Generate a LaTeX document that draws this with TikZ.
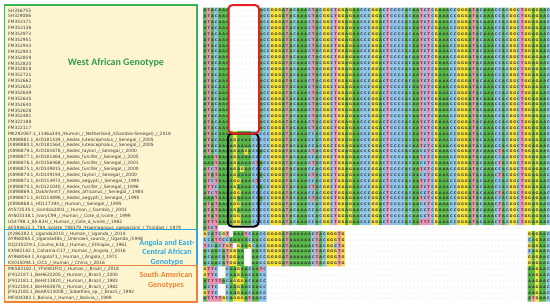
\documentclass[tikz,border=0pt]{standalone}
\usepackage{fontspec}
\setmainfont{DejaVu Sans}
\newfontfamily\titlefont{Carlito}

\definecolor{baseA}{RGB}{88,182,72}
\definecolor{baseC}{RGB}{143,195,234}
\definecolor{baseG}{RGB}{246,225,58}
\definecolor{baseT}{RGB}{235,145,178}
\definecolor{panelbg}{RGB}{253,245,208}
\definecolor{wagreen}{RGB}{58,182,88}
\definecolor{ecblue}{RGB}{48,168,224}
\definecolor{saorange}{RGB}{240,128,52}
\definecolor{labelgray}{RGB}{60,60,60}
\definecolor{boxred}{RGB}{228,30,36}

% one alignment row: \seqrow{row}{bases}; colour runs are merged per row
\newcount\seqcol
\newcount\runstart
\newcommand\seqrow[2]{%
  \pgfmathsetmacro\seqy{10.5+(#1-1)*5.88}%
  \pgfmathsetmacro\seqyt{\seqy-3.0}%
  \pgfmathsetmacro\seqyb{\seqy+3.0}%
  \edef\seqr{#1}%
  \global\seqcol=0\relax
  \gdef\runletter{}%
  \gdef\seqpathA{}\gdef\seqpathC{}\gdef\seqpathG{}\gdef\seqpathT{}%
  \edef\seqtmp{#2}%
  \expandafter\seqscan\seqtmp\relax
  \seqflush{\the\seqcol}%
  \seqfillone{A}\seqfillone{C}\seqfillone{G}\seqfillone{T}%
  \node[seqtext] (seq\seqr) at (203,\seqy+1.3) {\expandafter\seqtype\seqtmp\relax};}
\def\seqscan#1{%
  \ifx#1\relax\else
    \global\advance\seqcol by 1\relax
    \def\seqcur{#1}%
    \ifx\seqcur\runletter\else
      \seqflush{\the\seqcol-1}%
      \global\runstart=\seqcol\relax
      \global\let\runletter\seqcur
    \fi
    \expandafter\seqscan
  \fi}
\newcommand\seqflush[1]{%
  \ifx\runletter\empty\else
    \if\runletter-\else
      \pgfmathsetmacro\runxa{203+(\the\runstart-1)*3.731}%
      \pgfmathsetmacro\runxb{203+(#1)*3.731+0.15}%
      \expandafter\xdef\csname seqpath\runletter\endcsname{%
        \csname seqpath\runletter\endcsname (\runxa,\seqyt) rectangle (\runxb,\seqyb) }%
    \fi
  \fi}
\newcommand\seqfillone[1]{%
  \expandafter\ifx\csname seqpath#1\endcsname\empty\else
    \edef\seqcmd{\noexpand\fill[nuc#1] \csname seqpath#1\endcsname;}\seqcmd
  \fi}
\def\seqtype#1{\ifx#1\relax\else\seqcbox{#1}\expandafter\seqtype\fi}
\newcommand\seqcbox[1]{\makebox[3.731pt]{\if#1-\textcolor{gray!85}{\mdseries-}\else#1\fi}}

\def\gapbox{--------}
\def\dd{----------}
\def\wmid{ACCGGGATACAAACTACGGCTGGAGAACCCGGACT}
\def\wmidb{CCCGGGATACAAACCACGGCTGGAGAACCCGGACT}
\def\wtail{CCCCACAATCTCGAAACCGGGATACAAACCACGGCTGGAGAAC}
\def\wtailb{CCCCACAACCTCGAAACCGGGATACAAACTACGGCTGGAGAAC}
\def\wtailc{CCCCACAATTTCGAAACCGGGATACAAACTACGGCTGGAGAAC}

\begin{document}
\begin{tikzpicture}[x=1pt,y=-1pt]
  \tikzset{
    panel/.style={fill=panelbg, line width=1.2pt},
    lbl/.style={anchor=west, inner sep=0pt, text=labelgray, font=\fontsize{4.4}{5}\selectfont},
    gtitle/.style={inner sep=0pt, align=center, font=\titlefont\bfseries\fontsize{8}{9.5}\selectfont},
    seqtext/.style={anchor=base west, inner sep=0pt, text=black!80, font=\bfseries\fontsize{3.5}{4}\selectfont},
    nucA/.style={fill=baseA}, nucC/.style={fill=baseC},
    nucG/.style={fill=baseG}, nucT/.style={fill=baseT},
    insertbox/.style={rounded corners=4pt, line width=2pt}
  }
  \useasboundingbox (0,0) rectangle (550,306);

  % genotype panels
  \draw[panel, draw=wagreen] (4.5,5) rectangle (197,229.5);
  \draw[panel, draw=ecblue] (4.5,229.5) rectangle (197,265.5);
  \draw[panel, draw=saorange] (4.5,265.5) rectangle (197,302);

  \foreach \txt [count=\i] in {SH356755, SH329086, FM353171, FM353136, FM352972,
      FM352951, FM352943, FM352903, FM352859, FM352820, FM352818, FM352721,
      FM352662, FM352652, FM352649, FM352645, FM352640, FM352628, FM352481,
      FM322188, FM322117,
      MK292067.1\_1146a344\_/Human\_/\_Netherland\_/(Gambia-Senegal)\_/\_2018,
      JX898881.1\_ArD181439\_/\_Aedes\_luteocephalus\_/\_Senegal\_/\_2005,
      JX898880.1\_ArD181564\_/\_Aedes\_luteocephalus\_/\_Senegal\_/\_2005,
      JX898879.1\_ArD181676\_/\_Aedes\_taylori\_/\_Senegal\_/\_2000,
      JX898877.1\_ArD181464\_/\_Aedes\_furcifer\_/\_Senegal\_/\_2005,
      JX898876.1\_ArD156468\_/\_Aedes\_furcifer\_/\_Senegal\_/\_2001,
      JX898875.1\_ArD149815\_/\_Aedes\_furcifer\_/\_Senegal\_/\_2000,
      JX898874.1\_ArD149194\_/\_Aedes\_taylori\_/\_Senegal\_/\_2000,
      JX898872.1\_ArD114972\_/\_Aedes\_aegypti\_/\_Senegal\_/\_1995,
      JX898870.1\_ArD121040\_/\_Aedes\_furcifer\_/\_Senegal\_/\_1996,
      JX898869.1\_DakArAmt7\_/\_Aedes\_africanus\_/\_Senegal\_/\_1984,
      JX898871.1\_ArD114896\_/\_Aedes\_aegypti\_/\_Senegal\_/\_1995,
      JX898868.1\_HD117294\_/\_Human\_/\_Senegal\_/\_1995,
      AY572535.1\_Gambia2001\_/\_Human\_/\_Gambia\_/\_2001,
      AY603338.1\_IvoryC99\_/\_Human\_/\_Cote\_d\_Ivoire\_/\_1999,
      U54798.1\_85-82H\_/\_Human\_/\_Cote\_d\_Ivoire\_/\_1982,
      AF094612.1\_79A\_isolate\_788379\_/Haemagogus\_spegazzinii\_/\_Trinidad\_/\_1979,
      JX286382.1\_Uganda2010\_/\_Human\_/\_Uganda\_/\_2010,
      AY968065.1\_Uganda48a\_/\_Unknown\_source\_/\_Uganda\_/1948,
      DQ235229.1\_Couma\_61b\_/\_Human\_/\_Ethiopia\_/\_1961,
      KX982182.1\_Cahama-C17\_/\_Human\_/\_Angola\_/\_2016,
      AY968064.1\_Angola71\_/\_Human\_/\_Angola\_/\_1971,
      KX015094.1\_CIC1\_/\_Human\_/\_China\_/\_2016,
      MK583182.1\_YFV081FIO\_/\_Human\_/\_Brazil\_/\_2018,
      JF912187.1\_BeH622205\_/\_Human\_/\_Brazil\_/\_2000,
      JF912181.1\_BeH413820\_/\_Human\_/\_Brazil\_/\_1983,
      JF912184.1\_BeH463676\_/\_Human\_/\_Brazil\_/\_1982,
      JF912185.1\_BeAR513008\_/\_Sabethes\_sp.\_/\_Brazil\_/\_1992,
      MF004382.1\_Bolivia\_/\_Human\_/\_Bolivia\_/\_1999}
    \node[lbl] (lab\i) at (8,{10.5+(\i-1)*5.88}) {\txt};

  \node[gtitle, text=wagreen!85!black, font=\titlefont\bfseries\fontsize{10}{12}\selectfont]
    (westafrica) at (116,63) {West African Genotype};
  \node[gtitle, text=ecblue] (eastcentral) at (167,252.5) {Angola and East-\\Central African\\Genotype};
  \node[gtitle, text=saorange] (southam) at (166,280.5) {South American\\Genotypes};

  % alignment
  \foreach \r in {1,...,21} {\seqrow{\r}{ATACAAA\gapbox\wmid\wtail}}
  \seqrow{22}{ATACAAAAGAAAACC\wmidb\wtail}
  \seqrow{23}{ATACAAAAGAAAACC\wmidb\wtail}
  \seqrow{24}{ATACAAAAGAAAACC\wmidb\wtail}
  \seqrow{25}{ATACAAAAGAAGACC\wmid\wtailb}
  \seqrow{26}{AAATAAAAGAAAACC\wmidb\wtail}
  \seqrow{27}{AAATAAAAGAAAACT\wmid\wtailb}
  \seqrow{28}{ATCTAAAAGAGAACC\wmidb\wtail}
  \seqrow{29}{ATATAAAAGAAAACC\wmid\wtailb}
  \seqrow{30}{ATCTAAAAGGAAACT\wmidb\wtail}
  \seqrow{31}{ATTCAAAAGAAAACC\wmid\wtail}
  \seqrow{32}{ATCTAAAAGGAAACC\wmidb\wtailb}
  \seqrow{33}{AAATAAAAGAAAACC\wmid\wtail}
  \seqrow{34}{ATATAAAAGGAAACC\wmidb\wtailb}
  \seqrow{35}{ATATAAAAGAAAACC\wmidb\wtailb}
  \seqrow{36}{ATATAAAAGGAAACC\wmidb\wtailb}
  \seqrow{37}{ATTTAAAAGGAAACC\wmidb\wtailc}
  \seqrow{38}{ATCT\dd\dd\dd\dd\dd\dd\dd\dd---------}
  \seqrow{39}{GCATCGT-AAATCAACCGGGGATAAAAAACTACGGGTG\dd\dd\dd\dd---------GAGAAC}
  \seqrow{40}{CCATTCCAAAAACAACCGGGGATAAAAAACTACGGGTG\dd\dd\dd\dd---------CAGAAC}
  \seqrow{41}{TCCACTGT-GAAGCACCGGGGATAAAAAACTACGGCTG\dd\dd\dd\dd---------GAGAAC}
  \seqrow{42}{ACAACATGGAA--AACCGGGGATAAAAAACTACGGGTG\dd\dd\dd\dd---------CAGAAC}
  \seqrow{43}{ACAACATGGAA--AACCGGGGATAAAAAACTACGGGTG\dd\dd\dd\dd---------GAGAAC}
  \seqrow{44}{ACAACATGGAA--AACCGGGGATAAAAAACTACGGGTG\dd\dd\dd\dd---------GAGAAC}
  \seqrow{45}{GTTC--CAAGAACAATC\dd\dd\dd\dd\dd\dd\dd AAGAAC}
  \seqrow{46}{GTTC--CAAGAACAACC\dd\dd\dd\dd\dd\dd\dd AAGAAC}
  \seqrow{47}{ATTTTACAGGGACAACC\dd\dd\dd\dd\dd\dd\dd AAGAAC}
  \seqrow{48}{ACTC--CAAGAACAACC\dd\dd\dd\dd\dd\dd\dd AAGAAC}
  \seqrow{49}{GTTC--CAAGAACAACC\dd\dd\dd\dd\dd\dd\dd AAGAAC}
  \seqrow{50}{ATTTTGCAGGGATAACC\dd\dd\dd\dd\dd\dd\dd ATGAAC}

  % highlighted gap regions
  \draw[insertbox, draw=black] (228,133.5) rectangle (258.5,226.5);
  \draw[insertbox, draw=boxred] (228.5,5) rectangle (259,133.5);
\end{tikzpicture}
\end{document}
